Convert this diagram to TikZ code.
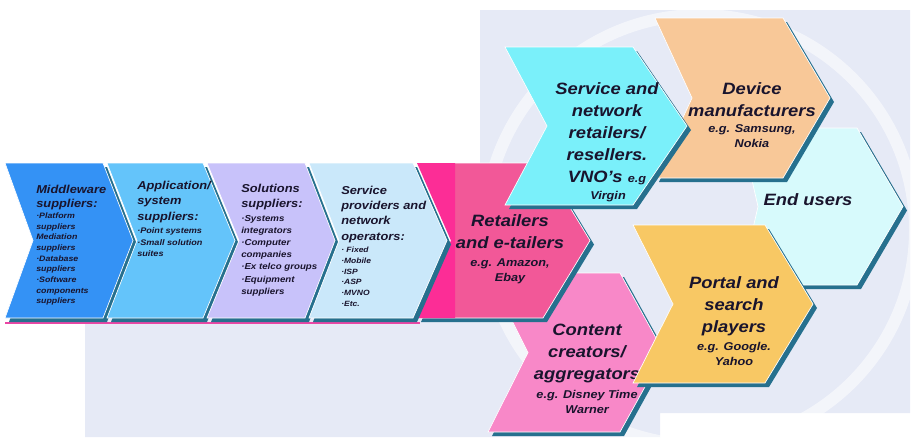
\documentclass[tikz,border=0pt]{standalone}
\usepackage{fontspec}
\setmainfont{Liberation Sans}[FakeStretch=1.12]
\usetikzlibrary{positioning}

\definecolor{paleback}{RGB}{230,234,246}
\definecolor{chevshade}{RGB}{38,112,142}
\definecolor{labeltext}{RGB}{25,20,45}
\definecolor{magline}{RGB}{235,70,165}
\definecolor{middlecol}{RGB}{52,146,245}
\definecolor{appcol}{RGB}{100,196,250}
\definecolor{solcol}{RGB}{200,194,250}
\definecolor{spcol}{RGB}{202,232,250}
\definecolor{retailcol}{RGB}{242,88,152}
\definecolor{retailstrip}{RGB}{252,45,150}
\definecolor{retailnetcol}{RGB}{122,240,250}
\definecolor{devcol}{RGB}{248,200,152}
\definecolor{endcol}{RGB}{215,250,252}
\definecolor{portalcol}{RGB}{248,200,100}
\definecolor{contentcol}{RGB}{248,136,200}

\newcommand{\fsz}[2]{\fontsize{#1}{#2}\selectfont\bfseries\itshape}
% chevron: left, top, bottom, right, tip, notch, colour
\newcommand{\chevron}[7]{%
  \fill[chevshade, shift={(4,4)}] (#1,#2) -- (#4,#2) -- ({#4+#5},{(#2+#3)/2}) -- (#4,#3) -- (#1,#3) -- ({#1+#6},{(#2+#3)/2}) -- cycle;
  \filldraw[fill=#7, draw=white, line width=0.5pt] (#1,#2) -- (#4,#2) -- ({#4+#5},{(#2+#3)/2}) -- (#4,#3) -- (#1,#3) -- ({#1+#6},{(#2+#3)/2}) -- cycle;}

\begin{document}
\begin{tikzpicture}[x=0.75pt, y=-0.75pt,
    lbl/.style={inner sep=0pt, text=labeltext},
    colhead/.style={lbl, align=left, anchor=north west},
    bighead/.style={lbl, align=center, anchor=north, font=\fsz{12.3}{16.5}},
    egtext/.style={lbl, align=center, anchor=north, font=\fsz{8.5}{11.25}}]
  \useasboundingbox (0,0) rectangle (919,437);
  % ---------------- pale panel behind the chain
  \fill[paleback] (480,10) -- (910,10) -- (910,413) -- (660,413) -- (660,437) -- (85,437) -- (85,318) -- (480,318) -- cycle;
  \begin{scope}
    \clip (480,10) rectangle (910,437);
    \draw[white, line width=9pt, opacity=0.55] (700,230) circle[radius=215];
  \end{scope}
  \draw[magline, line width=1.2pt] (5,323) -- (420,323);
  % ---------------- supply side
  \chevron{5}{163}{318}{103}{30}{28}{middlecol}
  \node[colhead, font=\fsz{8.6}{10.9}] (midhead) at (36,184.7) {Middleware\\suppliers:};
  \node[colhead, font=\fsz{5.9}{8}] (midlist) at (36,212.4) {·Platform\\suppliers\\Mediation\\suppliers\\·Database\\suppliers\\·Software\\components\\suppliers};
  \chevron{107}{163}{318}{203}{32}{30}{appcol}
  \node[colhead, font=\fsz{8.6}{11.6}] (apphead) at (137,180.7) {Application/\\system\\suppliers:};
  \node[colhead, font=\fsz{6.1}{8.8}] (applist) at (137,227.3) {·Point systems\\·Small solution\\suites};
  \chevron{207}{163}{318}{305}{30}{32}{solcol}
  \node[colhead, font=\fsz{8.6}{11.25}] (solhead) at (241,183.7) {Solutions\\suppliers:};
  \node[colhead, font=\fsz{6.5}{9.15}] (sollist) at (241,214.8) {·Systems\\integrators\\·Computer\\companies\\·Ex telco groups\\·Equipment\\suppliers};
  % ---------------- content and retail
  \chevron{488}{273}{432}{620}{44}{40}{contentcol}
  \node[bighead] (conthead) at (587,324.2) {Content\\creators/\\aggregators};
  \node[egtext] (conteg) at (587,389.8) {e.g. Disney Time\\Warner};
  \chevron{417}{163}{318}{543}{47}{34}{retailcol}
  \fill[retailstrip] (417,163) -- (455,163) -- (455,318) -- (417,318) -- (451,240.5) -- cycle;
  \node[bighead] (rethead) at (510,214.2) {Retailers\\and e-tailers};
  \node[egtext] (reteg) at (510,258.8) {e.g. Amazon,\\Ebay};
  \chevron{309}{163}{318}{413}{34}{30}{spcol}
  \node[colhead, font=\fsz{8.6}{11.5}] (sphead) at (341,185.7) {Service\\providers and\\network\\operators:};
  \node[colhead, font=\fsz{5.7}{8.1}] (splist) at (341,246.7) {· Fixed\\·Mobile\\·ISP\\·ASP\\·MVNO\\·Etc.};
  % ---------------- user side
  \chevron{740}{128}{285}{857}{46}{18}{endcol}
  \node[bighead] (endhead) at (808,193.2) {End users};
  \chevron{655}{18}{178}{783}{47}{37}{devcol}
  \node[bighead] (devhead) at (752,82.2) {Device\\manufacturers};
  \node[egtext] (deveg) at (752,124.8) {e.g. Samsung,\\Nokia};
  \chevron{505}{47}{205}{633}{54}{42}{retailnetcol}
  \node[bighead] (snrhead) at (607,82.2) {Service and\\network\\retailers/\\resellers.\\VNO’s {\fsz{8.5}{16.5}e.g}};
  \node[egtext] (snreg) at (608,190.8) {Virgin};
  \chevron{633}{225}{383}{765}{48}{40}{portalcol}
  \node[bighead] (porthead) at (734,276.2) {Portal and\\search\\players};
  \node[egtext] (porteg) at (734,341.8) {e.g. Google.\\Yahoo};
\end{tikzpicture}
\end{document}
